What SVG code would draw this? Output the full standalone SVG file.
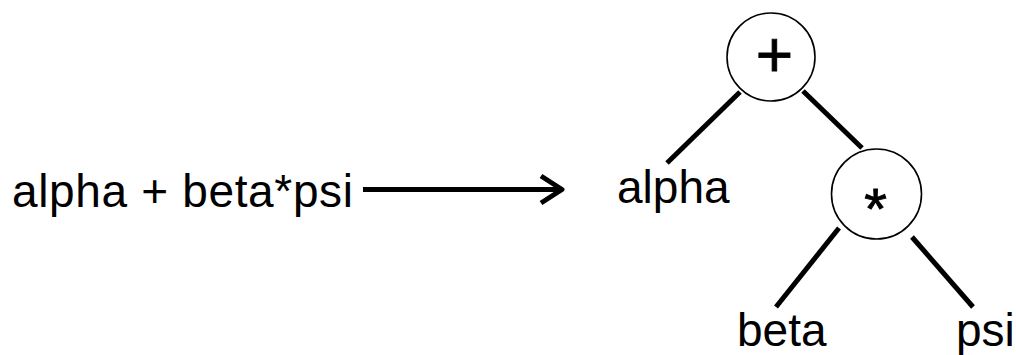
<svg xmlns="http://www.w3.org/2000/svg" width="1016" height="355" viewBox="0 0 1016 355">
<style>
text{font-family:"Liberation Sans",Arial,sans-serif;fill:#000}
.lbl{font-size:46px}
.op{text-anchor:middle;stroke:#000;stroke-width:0.9}
.node{fill:#fff;stroke:#000;stroke-width:1.6}
.edge{stroke:#000;stroke-width:5;stroke-linecap:butt;fill:none}
</style>
<rect width="1016" height="355" fill="#fff"/>
<g id="expr"><text class="lbl" x="12" y="207" textLength="341" lengthAdjust="spacing">alpha + beta*psi</text></g>
<g id="connectors">
<line class="edge" x1="363" y1="189.5" x2="561" y2="189.5" stroke-width="6"/>
<polyline class="edge" points="541,176 562,189.5 541,203" stroke-width="6" stroke-linejoin="round" stroke-linecap="round"/>
<line class="edge" x1="740" y1="92" x2="667" y2="163"/>
<line class="edge" x1="803" y1="91" x2="862" y2="148"/>
<line class="edge" x1="839" y1="228" x2="776" y2="307"/>
<line class="edge" x1="912" y1="237" x2="973" y2="307"/>
</g>
<g id="plus"><circle class="node" cx="771" cy="57" r="44"/><text class="op" x="774.5" y="76.5" font-size="64">+</text></g>
<g id="times"><circle class="node" cx="876.5" cy="194" r="45"/><text class="op" x="875.5" y="229" font-size="58">*</text></g>
<g id="alpha"><text class="lbl" x="617" y="203">alpha</text></g>
<g id="beta"><text class="lbl" x="737" y="346">beta</text></g>
<g id="psi"><text class="lbl" x="956" y="346">psi</text></g>
</svg>
